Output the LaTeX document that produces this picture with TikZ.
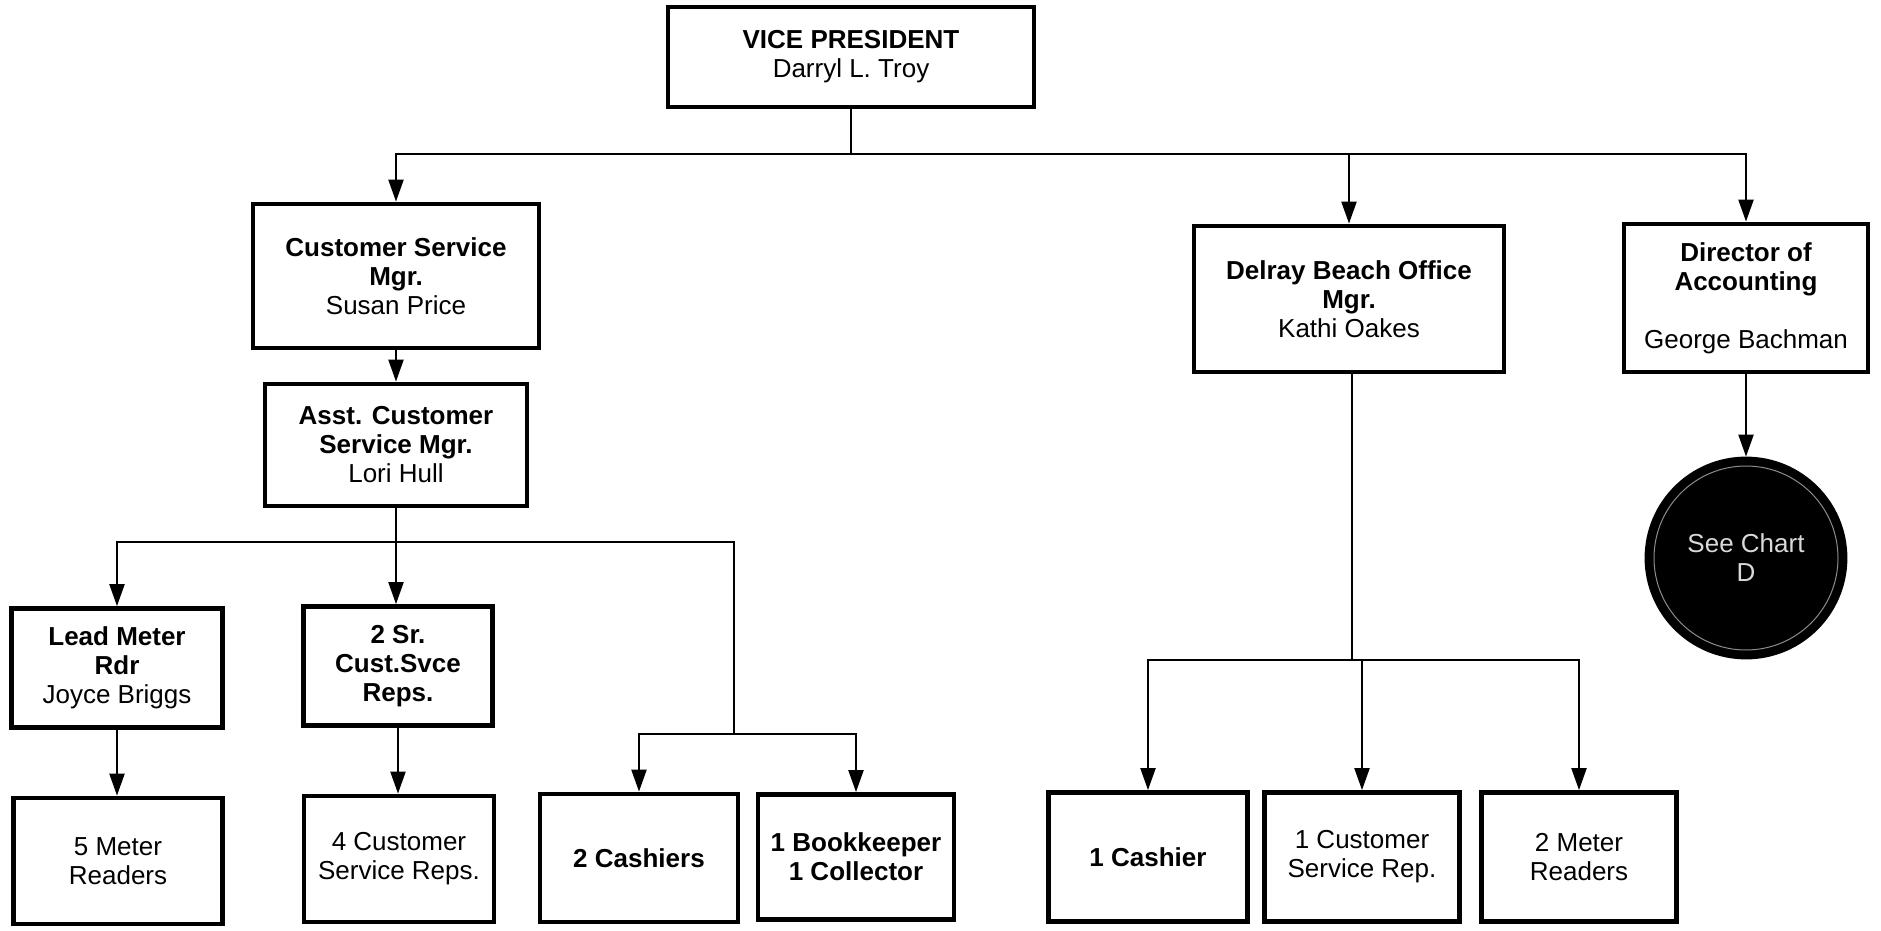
\documentclass[tikz,border=0pt]{standalone}
\usepackage{fontspec}
\setmainfont{Liberation Sans}
\usetikzlibrary{arrows.meta}
\tikzset{
  post/.style={draw, line width=2.4pt, align=center, inner sep=2pt,
    font=\fontsize{13}{14.5}\selectfont},
  link/.style={line width=1.1pt},
  arr/.style={link, -{Triangle[length=11pt, width=7.5pt]}},
  refcircle/.style={circle, draw, line width=2.4pt, fill=black, align=center,
    text=black!15, inner sep=0pt, font=\fontsize{13}{14.5}\selectfont},
}
\begin{document}
\begin{tikzpicture}[x=0.5pt, y=-0.5pt]
\useasboundingbox (0,0) rectangle (1881,931);

% top level
\node[post, minimum width=183pt, minimum height=50pt] (vp) at (851,57)
  {\textbf{VICE PRESIDENT}\\Darryl L. Troy};

% second level
\node[post, minimum width=143pt, minimum height=72pt] (csm) at (396,276)
  {\textbf{Customer Service}\\\textbf{Mgr.}\\Susan Price};
\node[post, minimum width=155pt, minimum height=73pt] (delray) at (1349,299)
  {\textbf{Delray Beach Office}\\\textbf{Mgr.}\\Kathi Oakes};
\node[post, minimum width=122pt, minimum height=74pt] (dir) at (1746,298)
  {\textbf{Director of}\\\textbf{Accounting}\\[14.5pt]George Bachman};

% customer service branch
\node[post, minimum width=131pt, minimum height=61pt] (asst) at (396,445)
  {\textbf{Asst. Customer}\\\textbf{Service Mgr.}\\Lori Hull};
\node[post, minimum width=105.5pt, minimum height=59.5pt] (lead) at (117,668)
  {\textbf{Lead Meter}\\\textbf{Rdr}\\Joyce Briggs};
\node[post, minimum width=94.5pt, minimum height=59.5pt] (srreps) at (398,666)
  {\textbf{2 Sr.}\\\textbf{Cust.Svce}\\\textbf{Reps.}};
\node[post, minimum width=104.5pt, minimum height=63pt] (readers5) at (118,861)
  {5 Meter\\Readers};
\node[post, minimum width=95pt, minimum height=63pt] (reps4) at (399,859)
  {4 Customer\\Service Reps.};
\node[post, minimum width=99pt, minimum height=64pt] (cashiers2) at (639,858)
  {\textbf{2 Cashiers}};
\node[post, minimum width=98pt, minimum height=62.5pt] (bookkeeper) at (856,857)
  {\textbf{1 Bookkeeper}\\\textbf{1 Collector}};

% Delray Beach branch
\node[post, minimum width=99.5pt, minimum height=64.5pt] (cashier1) at (1148,857)
  {\textbf{1 Cashier}};
\node[post, minimum width=97.5pt, minimum height=64.5pt] (rep1) at (1362,857)
  {1 Customer\\Service Rep.};
\node[post, minimum width=97.5pt, minimum height=64.5pt] (readers2) at (1579,857)
  {2 Meter\\Readers};

% accounting reference
\node[refcircle, minimum size=99pt] (chartd) at (1746,558) {See Chart\\D};
\draw[black!45, line width=0.5pt] (chartd.center) circle (92);

% junction points
\coordinate (topbus) at (851,154);
\coordinate (asstbus) at (396,542);
\coordinate (cashbus) at (734,734);
\coordinate (delbus) at (1352,660);

% connectors
\draw[link] (vp) -- (topbus);
\draw[arr] (topbus) -| (csm.north);
\draw[arr] (topbus) -| (delray.north);
\draw[arr] (topbus) -| (dir.north);

\draw[arr] (csm.south) -- (asst.north);
\draw[link] (asst.south) -- (asstbus);
\draw[arr] (asstbus) -| (lead.north);
\draw[arr] (asstbus) -- (asstbus |- srreps.north);
\draw[link] (asstbus) -| (cashbus);
\draw[arr] (cashbus) -| (cashiers2.north);
\draw[arr] (cashbus) -| (bookkeeper.north);
\draw[arr] (lead.south) -- (lead.south |- readers5.north);
\draw[arr] (srreps.south) -- (srreps.south |- reps4.north);

\draw[link] (delray.south -| delbus) -- (delbus);
\draw[arr] (delbus) -| (cashier1.north);
\draw[arr] (delbus) -| (rep1.north);
\draw[arr] (delbus) -| (readers2.north);

\draw[arr] (dir.south) -- (chartd.north);
\end{tikzpicture}
\end{document}
